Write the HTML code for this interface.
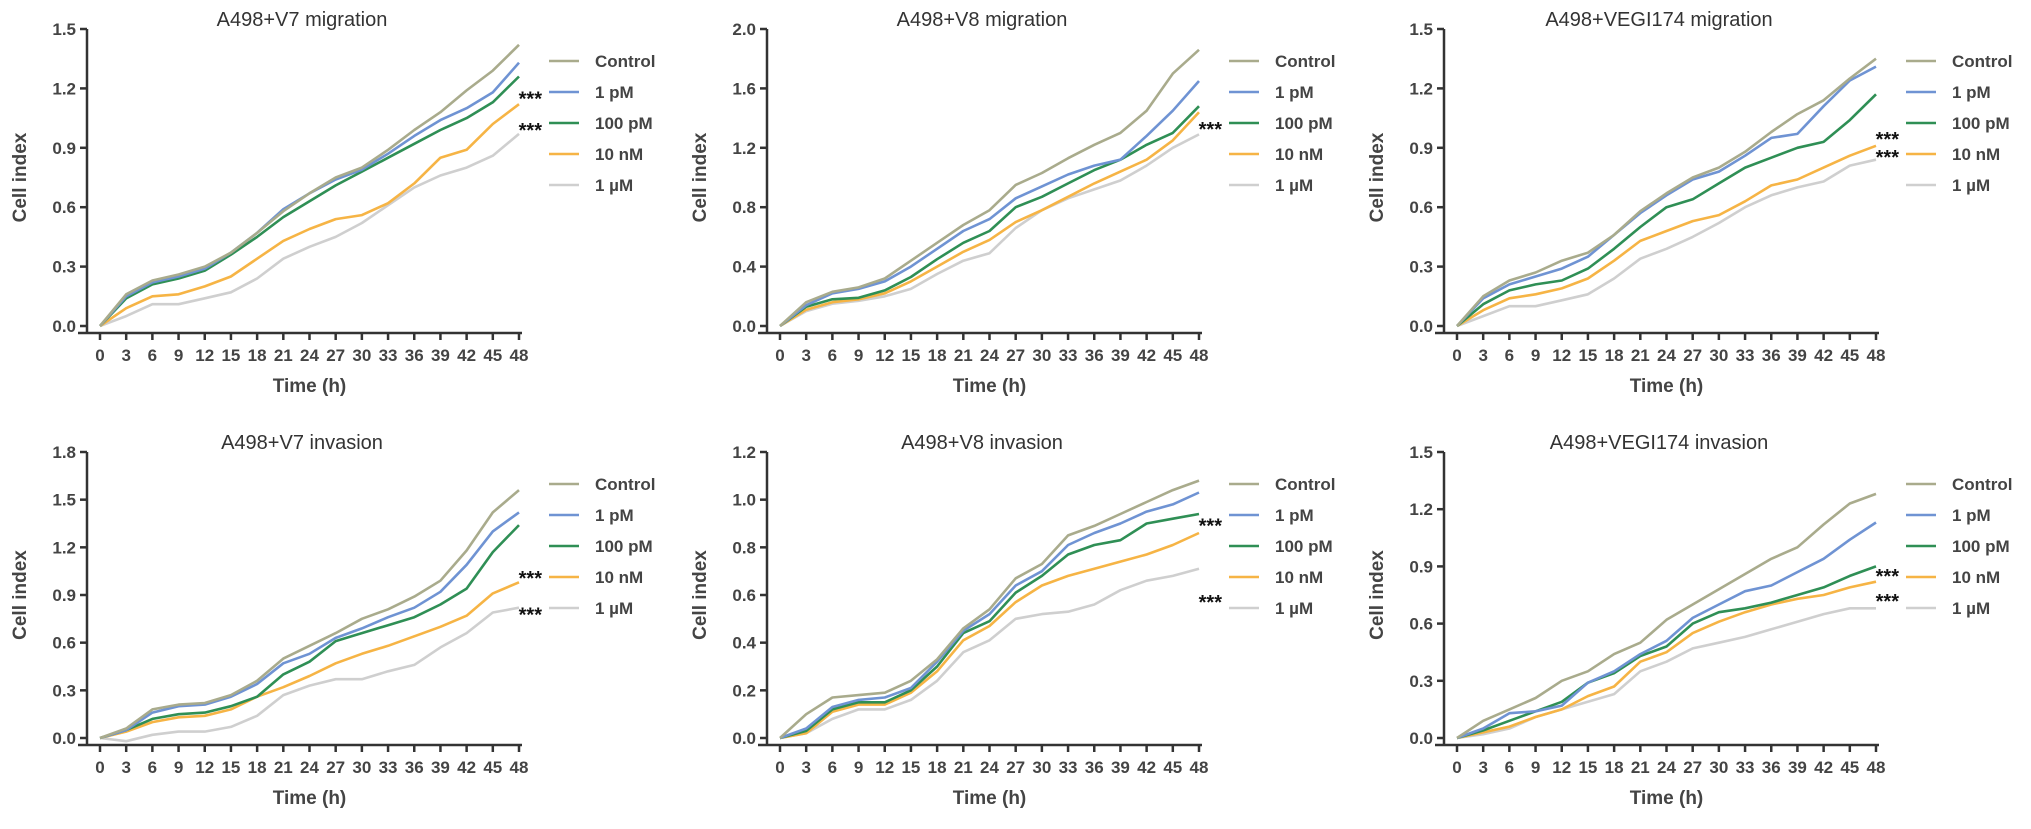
<!DOCTYPE html>
<html><head><meta charset="utf-8"><style>
html,body{margin:0;padding:0;background:#fff;}
svg{display:block;font-family:"Liberation Sans",Arial,sans-serif;}
</style></head>
<body>
<svg id="fig" width="2031" height="829" viewBox="0 0 2031 829"></svg>
<script>
const timeTicks = [0,3,6,9,12,15,18,21,24,27,30,33,36,39,42,45,48];
const seriesNames = ["Control","1 pM","100 pM","10 nM","1 \u00b5M"];
const seriesColors = ["#a9ab8c","#6f93d3","#2f8f55","#f6b445","#cfcfcf"];

const p1Title = "A498+V7 migration";
const p1Ticks = [0,0.3,0.6,0.9,1.2,1.5];
const p1Control = [0,0.16,0.23,0.26,0.30,0.37,0.47,0.58,0.67,0.75,0.80,0.89,0.99,1.08,1.19,1.29,1.42];
const p1Pm1 = [0,0.15,0.22,0.25,0.29,0.37,0.47,0.59,0.67,0.74,0.79,0.87,0.96,1.04,1.10,1.18,1.33];
const p1Pm100 = [0,0.14,0.21,0.24,0.28,0.36,0.45,0.55,0.63,0.71,0.78,0.85,0.92,0.99,1.05,1.13,1.26];
const p1Nm10 = [0,0.09,0.15,0.16,0.20,0.25,0.34,0.43,0.49,0.54,0.56,0.62,0.72,0.85,0.89,1.02,1.12];
const p1Um1 = [0,0.05,0.11,0.11,0.14,0.17,0.24,0.34,0.40,0.45,0.52,0.61,0.70,0.76,0.80,0.86,0.97];
const p1Stars = [1.16,1.0];

const p2Title = "A498+V8 migration";
const p2Ticks = [0,0.4,0.8,1.2,1.6,2.0];
const p2Control = [0,0.16,0.23,0.26,0.32,0.44,0.56,0.68,0.78,0.95,1.03,1.13,1.22,1.30,1.45,1.70,1.86];
const p2Pm1 = [0,0.14,0.22,0.25,0.30,0.40,0.52,0.64,0.72,0.86,0.94,1.02,1.08,1.12,1.28,1.45,1.65];
const p2Pm100 = [0,0.13,0.18,0.19,0.24,0.33,0.45,0.56,0.64,0.80,0.87,0.96,1.05,1.12,1.22,1.30,1.48];
const p2Nm10 = [0,0.11,0.16,0.18,0.22,0.30,0.40,0.50,0.58,0.70,0.78,0.87,0.96,1.04,1.12,1.25,1.44];
const p2Um1 = [0,0.10,0.15,0.17,0.20,0.25,0.35,0.44,0.49,0.66,0.78,0.86,0.92,0.98,1.08,1.20,1.29];
const p2Stars = [1.34];

const p3Title = "A498+VEGI174 migration";
const p3Ticks = [0,0.3,0.6,0.9,1.2,1.5];
const p3Control = [0,0.15,0.23,0.27,0.33,0.37,0.46,0.58,0.67,0.75,0.80,0.88,0.98,1.07,1.14,1.25,1.35];
const p3Pm1 = [0,0.14,0.21,0.25,0.29,0.35,0.46,0.57,0.66,0.74,0.78,0.86,0.95,0.97,1.11,1.24,1.31];
const p3Pm100 = [0,0.11,0.18,0.21,0.23,0.29,0.39,0.50,0.60,0.64,0.72,0.80,0.85,0.90,0.93,1.04,1.17];
const p3Nm10 = [0,0.08,0.14,0.16,0.19,0.24,0.33,0.43,0.48,0.53,0.56,0.63,0.71,0.74,0.80,0.86,0.91];
const p3Um1 = [0,0.05,0.10,0.10,0.13,0.16,0.24,0.34,0.39,0.45,0.52,0.60,0.66,0.70,0.73,0.81,0.84];
const p3Stars = [0.955,0.864];

const p4Title = "A498+V7 invasion";
const p4Ticks = [0,0.3,0.6,0.9,1.2,1.5,1.8];
const p4Control = [0,0.06,0.18,0.21,0.22,0.27,0.36,0.50,0.58,0.66,0.75,0.81,0.89,0.99,1.18,1.42,1.56];
const p4Pm1 = [0,0.05,0.16,0.20,0.21,0.26,0.34,0.47,0.53,0.63,0.69,0.76,0.82,0.92,1.09,1.30,1.42];
const p4Pm100 = [0,0.05,0.12,0.15,0.16,0.20,0.26,0.40,0.48,0.61,0.66,0.71,0.76,0.84,0.94,1.17,1.34];
const p4Nm10 = [0,0.04,0.10,0.13,0.14,0.18,0.26,0.32,0.39,0.47,0.53,0.58,0.64,0.70,0.77,0.91,0.98];
const p4Um1 = [0,-0.02,0.02,0.04,0.04,0.07,0.14,0.27,0.33,0.37,0.37,0.42,0.46,0.57,0.66,0.79,0.82];
const p4Stars = [1.02,0.79];

const p5Title = "A498+V8 invasion";
const p5Ticks = [0,0.2,0.4,0.6,0.8,1.0,1.2];
const p5Control = [0,0.10,0.17,0.18,0.19,0.24,0.33,0.46,0.54,0.67,0.73,0.85,0.89,0.94,0.99,1.04,1.08];
const p5Pm1 = [0,0.04,0.13,0.16,0.17,0.21,0.32,0.45,0.52,0.64,0.70,0.81,0.86,0.90,0.95,0.98,1.03];
const p5Pm100 = [0,0.03,0.12,0.15,0.15,0.20,0.30,0.44,0.49,0.61,0.68,0.77,0.81,0.83,0.90,0.92,0.94];
const p5Nm10 = [0,0.02,0.11,0.14,0.14,0.19,0.28,0.41,0.47,0.57,0.64,0.68,0.71,0.74,0.77,0.81,0.86];
const p5Um1 = [0,0.02,0.08,0.12,0.12,0.16,0.24,0.36,0.41,0.50,0.52,0.53,0.56,0.62,0.66,0.68,0.71];
const p5Stars = [0.90,0.58];

const p6Title = "A498+VEGI174 invasion";
const p6Ticks = [0,0.3,0.6,0.9,1.2,1.5];
const p6Control = [0,0.09,0.15,0.21,0.30,0.35,0.44,0.50,0.62,0.70,0.78,0.86,0.94,1.00,1.12,1.23,1.28];
const p6Pm1 = [0,0.05,0.13,0.14,0.17,0.29,0.35,0.44,0.51,0.63,0.70,0.77,0.80,0.87,0.94,1.04,1.13];
const p6Pm100 = [0,0.04,0.09,0.14,0.19,0.29,0.34,0.43,0.48,0.60,0.66,0.68,0.71,0.75,0.79,0.85,0.90];
const p6Nm10 = [0,0.03,0.06,0.11,0.15,0.22,0.27,0.40,0.45,0.55,0.61,0.66,0.70,0.73,0.75,0.79,0.82];
const p6Um1 = [0,0.02,0.05,0.11,0.15,0.19,0.23,0.35,0.40,0.47,0.50,0.53,0.57,0.61,0.65,0.68,0.68];
const p6Stars = [0.86,0.73];

const NS = "http://www.w3.org/2000/svg";
const svg = document.getElementById("fig");
function mk(tag, attrs, parent){
  const e = document.createElementNS(NS, tag);
  for (const k in attrs) e.setAttribute(k, attrs[k]);
  (parent||svg).appendChild(e);
  return e;
}

function panel(idx, ax, top, bottom, title, ticks, series, stars){
  const g = mk("g", {});
  
  
  const ymax = ticks[ticks.length-1];
  const x0 = ax + 13, x1 = ax + 432;
  const xs = t => x0 + (t/48)*(x1-x0);
  const ys = v => bottom - (v/ymax)*(bottom-top);
  const axisY = bottom + 7;
  const txt = (s, a, name) => { const t = mk("text", a, g); t.textContent = s;   return t; };

  txt(title, {x: ax+215, y: top-3, "text-anchor":"middle", "font-size":20, fill:"#333"}, 'panel-title');
  const ya = mk("line", {x1:ax, y1:top, x2:ax, y2:axisY, stroke:"#333", "stroke-width":2.5}, g);
  
  
  ticks.forEach(v => {
    mk("line", {x1:ax-7, y1:ys(v), x2:ax, y2:ys(v), stroke:"#333", "stroke-width":2.5}, g);
    txt(v.toFixed(1), {x: ax-11, y: ys(v)+6, "text-anchor":"end", "font-size":17, "font-weight":"bold", fill:"#444"}, 'y-tick-label');
  });
  const xa = mk("line", {x1:ax-9, y1:axisY, x2:x1+3, y2:axisY, stroke:"#333", "stroke-width":2.5}, g);
  
  
  timeTicks.forEach(t => {
    mk("line", {x1:xs(t), y1:axisY, x2:xs(t), y2:axisY+7, stroke:"#333", "stroke-width":2.5}, g);
    txt(String(t), {x: xs(t), y: axisY+28, "text-anchor":"middle", "font-size":17, "font-weight":"bold", fill:"#444"}, 'x-tick-label');
  });
  txt("Time (h)", {x:(x0+x1)/2, y: bottom+66, "text-anchor":"middle", "font-size":19, "font-weight":"bold", fill:"#444"}, 'x-axis-title');
  txt("Cell index", {x:0, y:0, "text-anchor":"middle", "font-size":19, "font-weight":"bold", fill:"#444",
    transform:`translate(${ax-61},${(top+bottom)/2}) rotate(-90)`}, 'y-axis-title');
  for (let s = series.length-1; s >= 0; s--){
    const d = series[s].map((v,i) => (i?"L":"M") + xs(timeTicks[i]).toFixed(1) + "," + ys(v).toFixed(1)).join(" ");
    const p = mk("path", {d, fill:"none", stroke:seriesColors[s], "stroke-width":2.6, "stroke-linejoin":"round"}, g);
    
    
  }
  stars.forEach(v => {
    txt("***", {x: ax+455, y: ys(v)+9, "text-anchor":"end", "font-size":20, "font-weight":"bold", fill:"#111"}, 'significance-marker');
  });
  const ly0 = top + 32;
  seriesNames.forEach((n, i) => {
    const ly = ly0 + i*31;
    const lg = mk("g", {}, g);
    
    
    mk("line", {x1:ax+462, y1:ly, x2:ax+492, y2:ly, stroke:seriesColors[i], "stroke-width":2.6}, lg);
    const t = mk("text", {x:ax+508, y:ly+6, "font-size":17, "font-weight":"bold", fill:"#444"}, lg);
    t.textContent = n;
    
    
  });
}

const axesX = [87, 767, 1444];
panel(1, axesX[0], 29, 326, p1Title, p1Ticks, [p1Control,p1Pm1,p1Pm100,p1Nm10,p1Um1], p1Stars);
panel(2, axesX[1], 29, 326, p2Title, p2Ticks, [p2Control,p2Pm1,p2Pm100,p2Nm10,p2Um1], p2Stars);
panel(3, axesX[2], 29, 326, p3Title, p3Ticks, [p3Control,p3Pm1,p3Pm100,p3Nm10,p3Um1], p3Stars);
panel(4, axesX[0], 452, 738, p4Title, p4Ticks, [p4Control,p4Pm1,p4Pm100,p4Nm10,p4Um1], p4Stars);
panel(5, axesX[1], 452, 738, p5Title, p5Ticks, [p5Control,p5Pm1,p5Pm100,p5Nm10,p5Um1], p5Stars);
panel(6, axesX[2], 452, 738, p6Title, p6Ticks, [p6Control,p6Pm1,p6Pm100,p6Nm10,p6Um1], p6Stars);
</script>
</body></html>
